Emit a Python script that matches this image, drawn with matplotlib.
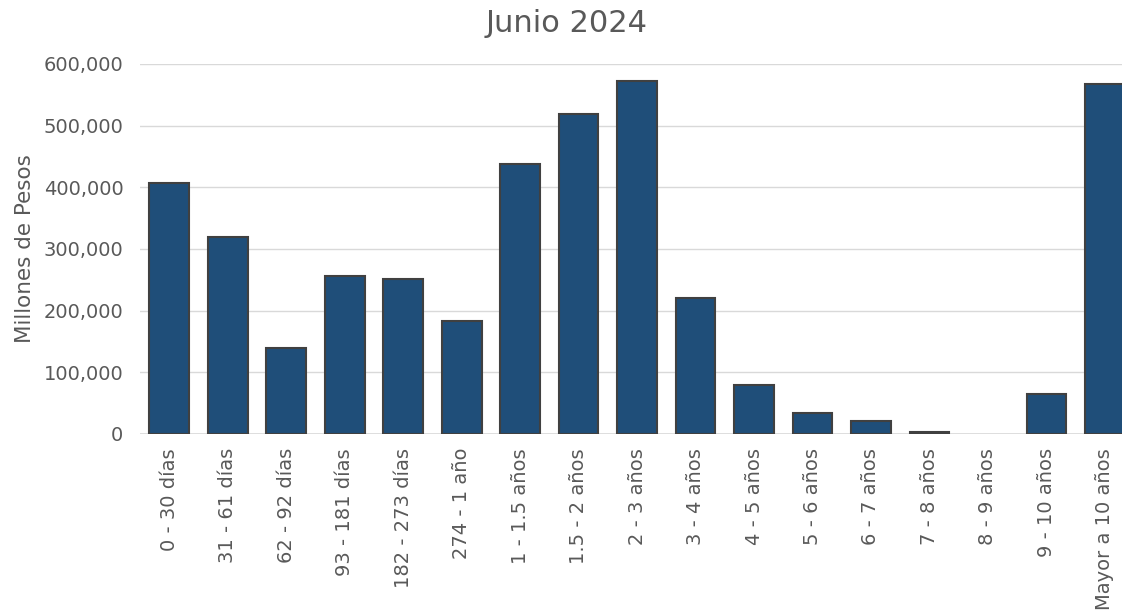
import matplotlib.pyplot as plt
from matplotlib.ticker import FuncFormatter

categorias = ['0 - 30 días', '31 - 61 días', '62 - 92 días', '93 - 181 días',
              '182 - 273 días', '274 - 1 año', '1 - 1.5 años', '1.5 - 2 años',
              '2 - 3 años', '3 - 4 años', '4 - 5 años', '5 - 6 años',
              '6 - 7 años', '7 - 8 años', '8 - 9 años', '9 - 10 años',
              'Mayor a 10 años']
montos = [407000, 319500, 139500, 256000, 251000, 183000, 438000, 519000,
          572000, 220500, 79500, 34000, 21000, 3500, 0, 65000, 567500]

gris = '#595959'

fig = plt.figure(figsize=(11.22, 6.11), dpi=100)
ax = fig.add_axes([0.1248, 0.2897, 0.886, 0.6056])

x = range(len(categorias))
bordes = [1.5 if m > 0 else 0 for m in montos]
ax.bar(x, montos, width=0.68, color='#1F4E79', edgecolor='#404040', linewidth=bordes, zorder=3)

ax.set_xlim(-0.5, len(categorias) - 0.5)
ax.set_ylim(0, 600000)
ax.set_yticks(range(0, 600001, 100000))
ax.yaxis.set_major_formatter(FuncFormatter(lambda v, p: f'{int(v):,}'))
ax.set_xticks(list(x))
ax.set_xticklabels(categorias, rotation=90)
ax.tick_params(axis='both', length=0, labelsize=14, colors=gris)
ax.tick_params(axis='x', pad=10)
ax.tick_params(axis='y', pad=12)
ax.grid(axis='y', color='#D9D9D9', linewidth=1, zorder=0)
for s in ax.spines.values():
    s.set_visible(False)
ax.axhline(0, color='#D9D9D9', linewidth=1.2, zorder=2)

ax.set_ylabel('Millones de Pesos', fontsize=15.5, color=gris, labelpad=6)
fig.text(0.505, 0.962, 'Junio 2024', ha='center', va='center', fontsize=22, color=gris)

fig.savefig('out.png', dpi=100)
